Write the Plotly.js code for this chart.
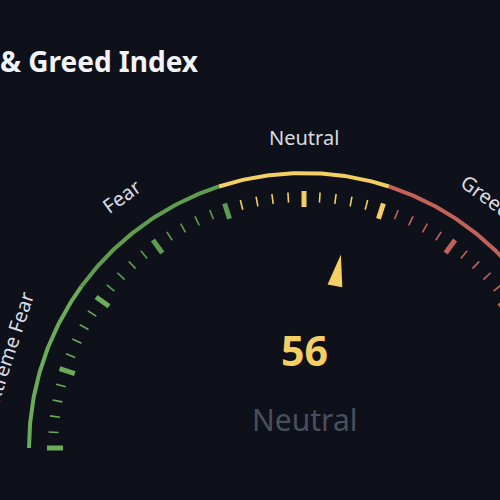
<!DOCTYPE html>
<html>
<head>
<meta charset="utf-8">
<script src="https://cdn.plot.ly/plotly-3.0.1.min.js"></script>
<style>
html,body{margin:0;padding:0;background:#0e1119;}
#chart{width:500px;height:500px;}
</style>
</head>
<body>
<div id="chart"></div>
<script>
// ---- data ----
const chartTitle = 'Fear & Greed Index';
const segNames = ['Extreme Fear', 'Fear', 'Neutral', 'Greed', 'Extreme Greed'];
const segStart = [0, 20, 40, 60, 80];
const segEnd = [20, 40, 60, 80, 100];
const segColors = ['#6cab5a', '#5f9c50', '#f4cf63', '#c2625b', '#ad4a43'];
const majorTicks = [0, 10, 20, 30, 40, 50, 60, 70, 80, 90, 100];
const minorStep = 2;
const indexValue = 56;
const indexLabel = 'Neutral';

// ---- geometry (style) ----
const R_ARC = 275, R_LABEL = 311;
const R_MAJ = [241, 257], R_MIN = [246, 256];
const NEEDLE = {base: 165, tip: 197, half: 7.5};

function ang(v) { return Math.PI * (1 - v / 100); }
function pt(v, r) { const a = ang(v); return [r * Math.cos(a), r * Math.sin(a)]; }
function segOf(v) {
  for (let i = 0; i < segStart.length; i++) {
    if (v <= segEnd[i]) return i;
  }
  return segStart.length - 1;
}

const traces = [];
// arcs
segNames.forEach((n, i) => {
  const xs = [], ys = [];
  for (let v = segStart[i]; v <= segEnd[i] + 1e-9; v += 0.25) {
    const p = pt(v, R_ARC); xs.push(p[0]); ys.push(p[1]);
  }
  traces.push({type: 'scatter', mode: 'lines', x: xs, y: ys, line: {color: segColors[i], width: 4}, hoverinfo: 'skip'});
});
// ticks
segNames.forEach((n, i) => {
  const mx = [], my = [], nx = [], ny = [];
  for (let v = 0; v <= 100; v += minorStep) {
    if (segOf(v) !== i) continue;
    const isMajor = majorTicks.includes(v);
    const rr = isMajor ? R_MAJ : R_MIN;
    const p1 = pt(v, rr[0]), p2 = pt(v, rr[1]);
    if (isMajor) { mx.push(p1[0], p2[0], null); my.push(p1[1], p2[1], null); }
    else { nx.push(p1[0], p2[0], null); ny.push(p1[1], p2[1], null); }
  }
  traces.push({type: 'scatter', mode: 'lines', x: mx, y: my, line: {color: segColors[i], width: 5}, hoverinfo: 'skip'});
  traces.push({type: 'scatter', mode: 'lines', x: nx, y: ny, line: {color: segColors[i], width: 1.6}, hoverinfo: 'skip'});
});
// needle
(function () {
  const a = ang(indexValue);
  const u = [Math.cos(a), Math.sin(a)], p = [-Math.sin(a), Math.cos(a)];
  const tip = [u[0] * NEEDLE.tip, u[1] * NEEDLE.tip];
  const b = [u[0] * NEEDLE.base, u[1] * NEEDLE.base];
  const c = segColors[segOf(indexValue)];
  traces.push({type: 'scatter', mode: 'lines', fill: 'toself',
    x: [tip[0], b[0] + p[0] * NEEDLE.half, b[0] - p[0] * NEEDLE.half, tip[0]],
    y: [tip[1], b[1] + p[1] * NEEDLE.half, b[1] - p[1] * NEEDLE.half, tip[1]],
    line: {width: 0, color: c}, fillcolor: c, hoverinfo: 'skip'});
})();

const annotations = segNames.map((n, i) => {
  const mid = (segStart[i] + segEnd[i]) / 2;
  const p = pt(mid, R_LABEL);
  const thetaDeg = 180 - mid * 1.8;
  return {x: p[0], y: p[1], xref: 'x', yref: 'y', text: n, showarrow: false,
    textangle: 90 - thetaDeg,
    font: {family: 'Noto Sans', size: 20, color: '#d9dce3'}, xanchor: 'center', yanchor: 'middle'};
});
annotations.push({x: 0, y: 98, xref: 'x', yref: 'y', text: String(indexValue), showarrow: false,
  font: {family: 'Noto Sans', size: 41, weight: 'bold', color: segColors[segOf(indexValue)]}, xanchor: 'center', yanchor: 'middle'});
annotations.push({x: 0, y: 29, xref: 'x', yref: 'y', text: indexLabel, showarrow: false,
  font: {family: 'Noto Sans', size: 30, color: '#4a4f5b'}, xanchor: 'center', yanchor: 'middle'});

const layout = {
  width: 500, height: 500,
  margin: {l: 0, r: 0, t: 0, b: 0},
  paper_bgcolor: '#0e1119', plot_bgcolor: '#0e1119',
  showlegend: false,
  title: {text: '<b>' + chartTitle + '</b>', x: 198 / 500, xanchor: 'right', y: 1 - 62 / 500, yanchor: 'middle',
    font: {family: 'Noto Sans', size: 28, color: '#f2f3f6'}},
  xaxis: {range: [-304, 196], visible: false, fixedrange: true},
  yaxis: {range: [-52, 448], visible: false, fixedrange: true},
  annotations: annotations,
  hovermode: false
};
Plotly.newPlot('chart', traces, layout, {displayModeBar: false, staticPlot: true});
</script>
</body>
</html>
